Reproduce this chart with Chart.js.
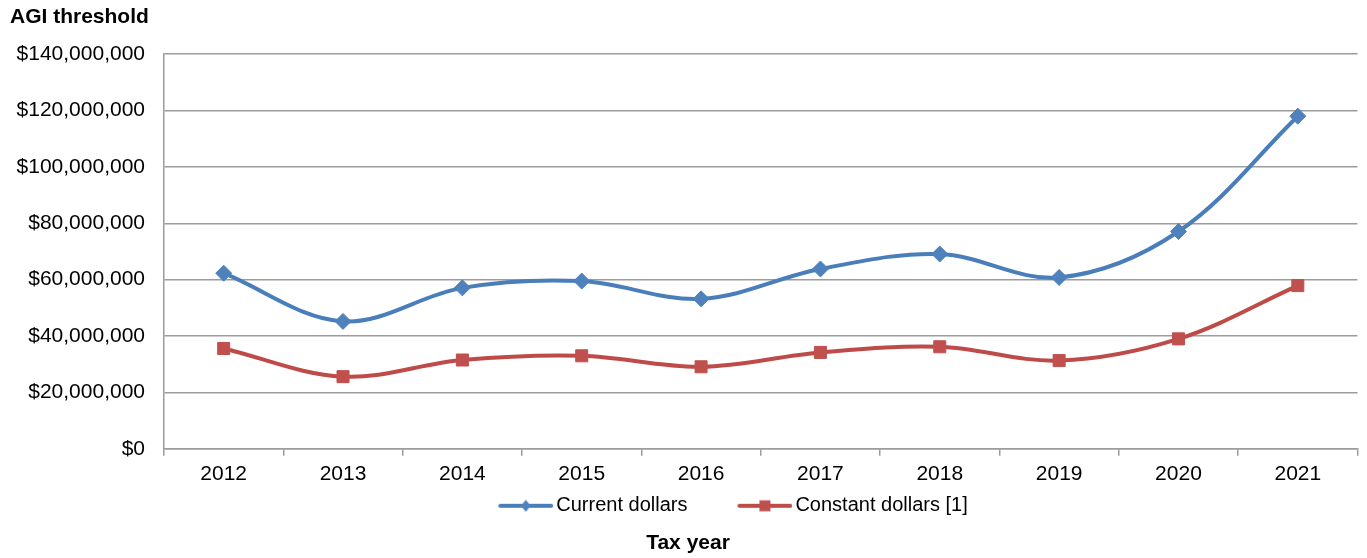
<!DOCTYPE html>
<html>
<head>
<meta charset="utf-8">
<title>AGI threshold by tax year</title>
<script src="https://cdn.jsdelivr.net/npm/chart.js@4.4.1/dist/chart.umd.min.js"></script>
<style>
  html, body { margin: 0; padding: 0; background: #fff; }
  #agi-threshold-chart { display: block; }
</style>
</head>
<body>
<canvas id="agi-threshold-chart" width="1367" height="558"></canvas>
<script>
// tax years on the x axis
var taxYears = ['2012', '2013', '2014', '2015', '2016', '2017', '2018', '2019', '2020', '2021'];

// AGI threshold, in dollars
var currentDollars = [62300000, 45200000, 57100000, 59500000, 53200000, 63800000, 69100000, 60800000, 77100000, 118000000];
var constantDollars = [35600000, 25600000, 31500000, 33000000, 29100000, 34200000, 36200000, 31300000, 39000000, 57900000];

var seriesLabels = ['Current dollars', 'Constant dollars [1]'];

// y axis runs $0 .. $140,000,000 in $20M steps
var yAxisMax = 140000000;
var yAxisStep = 20000000;

var colors = {
    blueLine: '#4A7EBB',
    blueMarker: '#4F81BD',
    redLine: '#BE4B48',
    redMarker: '#C0504D',
    grid: '#9c9c9c',
    text: '#000000'
};

Chart.defaults.font.family = "'Liberation Sans', Arial, sans-serif";
Chart.defaults.color = colors.text;

var legendBox = 88;   // pointStyleWidth used by the legend
var legendPad = 10;

// legend swatch: a short thick line with the series marker on it
function legendSwatch(lineColor, markerColor, shape) {
    var c = document.createElement('canvas');
    c.width = legendBox + 14;
    c.height = 16;
    var g = c.getContext('2d');
    var x0 = c.width - 55, x1 = c.width, cy = c.height / 2;
    g.strokeStyle = lineColor;
    g.lineWidth = 4;
    g.lineCap = 'round';
    g.beginPath();
    g.moveTo(x0 + 2, cy);
    g.lineTo(x1 - 2, cy);
    g.stroke();
    var mx = (x0 + x1) / 2;
    g.fillStyle = markerColor;
    g.beginPath();
    if (shape === 'diamond') {
        g.moveTo(mx - 5, cy);
        g.lineTo(mx, cy - 6);
        g.lineTo(mx + 5, cy);
        g.lineTo(mx, cy + 6);
        g.closePath();
    } else {
        g.rect(mx - 5.5, cy - 5.5, 11, 11);
    }
    g.fill();
    return c;
}

var legendSwatches = [
    legendSwatch(colors.blueLine, colors.blueMarker, 'diamond'),
    legendSwatch(colors.redLine, colors.redMarker, 'square')
];

// nudge the legend row so it sits under the middle of the plot
var legendOffset = {
    id: 'legendOffset',
    afterLayout: function (chart) {
        if (chart.legend) {
            chart.legend.left += 25;
            chart.legend.right += 25;
        }
    }
};

var ctx = document.getElementById('agi-threshold-chart').getContext('2d');
var agiChart = new Chart(ctx, {
    type: 'line',
    data: {
        labels: taxYears,
        datasets: [
            {
                label: seriesLabels[0],
                data: currentDollars,
                borderColor: colors.blueLine,
                backgroundColor: colors.blueMarker,
                borderWidth: 4,
                tension: 0.35,
                pointStyle: 'rectRot',
                pointRadius: 8,
                pointBorderWidth: 1,
                pointBorderColor: colors.blueMarker,
                pointBackgroundColor: colors.blueMarker
            },
            {
                label: seriesLabels[1],
                data: constantDollars,
                borderColor: colors.redLine,
                backgroundColor: colors.redMarker,
                borderWidth: 4,
                tension: 0.35,
                pointStyle: 'rect',
                pointRadius: 8.5,
                pointBorderWidth: 1,
                pointBorderColor: colors.redMarker,
                pointBackgroundColor: colors.redMarker
            }
        ]
    },
    options: {
        responsive: false,
        animation: false,
        devicePixelRatio: 1,
        layout: { padding: { left: 10, right: 1, top: 0, bottom: 0 } },
        scales: {
            x: {
                offset: true,
                afterFit: function (scale) {
                    scale.height = 37;
                },
                grid: {
                    offset: true,
                    drawOnChartArea: false,
                    drawTicks: true,
                    tickLength: 7,
                    color: colors.grid,
                    lineWidth: 1.5
                },
                border: { color: colors.grid, width: 1.5 },
                ticks: { font: { size: 21 }, padding: 6, maxRotation: 0, color: colors.text }
            },
            y: {
                min: 0,
                max: yAxisMax,
                afterFit: function (scale) {
                    scale.width = 154;
                },
                grid: { color: colors.grid, drawTicks: false, lineWidth: 1.5 },
                border: { color: colors.grid, width: 1.5 },
                ticks: {
                    stepSize: yAxisStep,
                    padding: 19,
                    font: { size: 21 },
                    color: colors.text,
                    callback: function (v) {
                        return '$' + Number(v).toLocaleString('en-US');
                    }
                }
            }
        },
        plugins: {
            subtitle: {
                display: true,
                text: 'AGI threshold',
                position: 'top',
                align: 'start',
                color: colors.text,
                font: { size: 21, weight: 'bold' },
                padding: { top: 5, bottom: 24 }
            },
            title: {
                display: true,
                text: 'Tax year',
                position: 'bottom',
                color: colors.text,
                font: { size: 21, weight: 'bold' },
                padding: { top: 5, bottom: 2 }
            },
            legend: {
                position: 'bottom',
                labels: {
                    usePointStyle: true,
                    pointStyleWidth: legendBox,
                    padding: legendPad,
                    color: colors.text,
                    font: { size: 20 },
                    generateLabels: function (chart) {
                        var items = Chart.defaults.plugins.legend.labels.generateLabels(chart);
                        items.forEach(function (item, i) {
                            item.pointStyle = legendSwatches[i];
                        });
                        return items;
                    }
                }
            },
            tooltip: { enabled: false }
        }
    },
    plugins: [legendOffset]
});
</script>
</body>
</html>
